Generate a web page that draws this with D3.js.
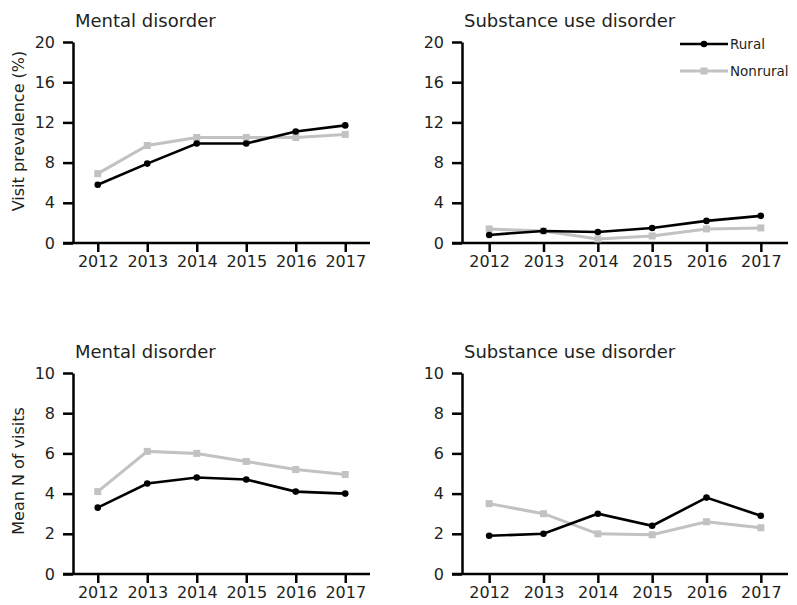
<!DOCTYPE html>
<html>
<head>
<meta charset="utf-8">
<script src="https://cdn.jsdelivr.net/npm/d3@7"></script>
<style>
  body { margin: 0; background: #fff; }
  text { font-family: "DejaVu Sans", sans-serif; fill: #231f20; }
</style>
</head>
<body>
<svg id="chart" width="797" height="605"></svg>
<script>
const years = ["2012", "2013", "2014", "2015", "2016", "2017"];

// visit prevalence (%)
const prevMentalRural    = [5.8, 7.9, 9.9, 9.9, 11.1, 11.7];
const prevMentalNonrural = [6.9, 9.7, 10.5, 10.5, 10.5, 10.8];
const prevSubstRural     = [0.8, 1.2, 1.1, 1.5, 2.2, 2.7];
const prevSubstNonrural  = [1.4, 1.2, 0.4, 0.7, 1.4, 1.5];

// mean N of visits
const visitsMentalRural    = [3.3, 4.5, 4.8, 4.7, 4.1, 4.0];
const visitsMentalNonrural = [4.1, 6.1, 6.0, 5.6, 5.2, 4.95];
const visitsSubstRural     = [1.9, 2.0, 3.0, 2.4, 3.8, 2.9];
const visitsSubstNonrural  = [3.5, 3.0, 2.0, 1.95, 2.6, 2.3];

const prevTicks = [0, 4, 8, 12, 16, 20];
const visitTicks = [0, 2, 4, 6, 8, 10];

const svg = d3.select("#chart");

const black = "#000", grey = "#c2c2c2";

function panel(opt) {
    const x = d3.scalePoint().domain(years).range([opt.x0, opt.x1]).padding(0.5);
    const y = d3.scaleLinear().domain([0, opt.max]).range([opt.yBottom, opt.yTop]);
    const g = svg.append("g");

    // x axis
    g.append("g")
        .attr("transform", `translate(0,${opt.yBottom})`)
        .call(d3.axisBottom(x).tickSize(9).tickSizeOuter(0).tickPadding(4))
        .call(a => a.select(".domain").attr("d", `M${opt.x0 - 10},0H${opt.x1}`))
        .call(a => a.selectAll("line, path").attr("stroke", "#000").attr("stroke-width", 2.5))
        .call(a => a.selectAll("text").style("font-size", "16px").attr("fill", "#231f20"));

    // y axis
    g.append("g")
        .attr("transform", `translate(${opt.x0},0)`)
        .call(d3.axisLeft(y).tickValues(opt.ticks).tickSize(10).tickSizeOuter(0).tickPadding(8))
        .call(a => a.selectAll("line, path").attr("stroke", "#000").attr("stroke-width", 2.5))
        .call(a => a.selectAll("text").style("font-size", "16px").attr("fill", "#231f20"));

    // title
    g.append("text")
        .attr("x", opt.x0 + 2)
        .attr("y", opt.yTop - 15)
        .style("font-size", "18px")
        .text(opt.title);

    if (opt.ylabel) {
        g.append("text")
            .attr("transform", `translate(24,${opt.ylabelY}) rotate(-90)`)
            .attr("text-anchor", "middle")
            .style("font-size", "16px")
            .text(opt.ylabel);
    }

    const line = d3.line().x((d, i) => x(years[i])).y(d => y(d));

    // nonrural first, rural drawn on top
    g.append("path")
        .attr("fill", "none").attr("stroke", grey).attr("stroke-width", 3)
        .attr("d", line(opt.nonrural));
    g.selectAll(".sq").data(opt.nonrural).join("rect")
        .attr("x", (d, i) => x(years[i]) - 3.5)
        .attr("y", d => y(d) - 3.5)
        .attr("width", 7).attr("height", 7)
        .attr("fill", grey);

    g.append("path")
        .attr("fill", "none").attr("stroke", black).attr("stroke-width", 2.6)
        .attr("d", line(opt.rural));
    g.selectAll(".dot").data(opt.rural).join("circle")
        .attr("cx", (d, i) => x(years[i]))
        .attr("cy", d => y(d))
        .attr("r", 3.3)
        .attr("fill", black);
}

panel({ x0: 73, x1: 370, yTop: 42, yBottom: 243, max: 20, ticks: prevTicks,
        title: "Mental disorder", ylabel: "Visit prevalence (%)", ylabelY: 131,
        rural: prevMentalRural, nonrural: prevMentalNonrural });
panel({ x0: 462, x1: 788, yTop: 42, yBottom: 243, max: 20, ticks: prevTicks,
        title: "Substance use disorder",
        rural: prevSubstRural, nonrural: prevSubstNonrural });
panel({ x0: 73, x1: 370, yTop: 373, yBottom: 574, max: 10, ticks: visitTicks,
        title: "Mental disorder", ylabel: "Mean N of visits", ylabelY: 471,
        rural: visitsMentalRural, nonrural: visitsMentalNonrural });
panel({ x0: 462, x1: 788, yTop: 373, yBottom: 574, max: 10, ticks: visitTicks,
        title: "Substance use disorder",
        rural: visitsSubstRural, nonrural: visitsSubstNonrural });

// legend
const legendItems = [
    { name: "Rural", color: black, shape: "circle" },
    { name: "Nonrural", color: grey, shape: "square" }
];
const legend = svg.append("g").attr("transform", "translate(680,44)");
legendItems.forEach((item, i) => {
    const row = legend.append("g").attr("transform", `translate(0,${i * 27})`);
    row.append("line")
        .attr("x1", 0).attr("x2", 48)
        .attr("stroke", item.color).attr("stroke-width", item.shape === "circle" ? 2.6 : 3);
    if (item.shape === "circle") {
        row.append("circle").attr("cx", 24).attr("r", 3.3).attr("fill", item.color);
    } else {
        row.append("rect").attr("x", 20.5).attr("y", -3.5).attr("width", 7).attr("height", 7).attr("fill", item.color);
    }
    row.append("text")
        .attr("x", 50)
        .attr("dy", "0.35em")
        .style("font-size", "13.5px")
        .text(item.name);
});
</script>
</body>
</html>
